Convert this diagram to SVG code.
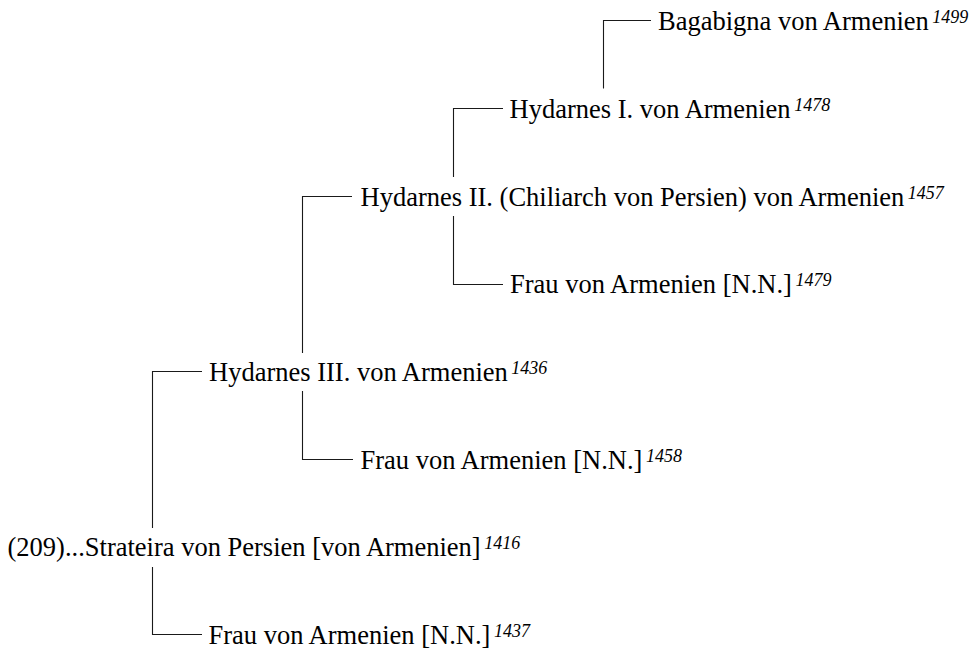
<svg xmlns="http://www.w3.org/2000/svg" width="975" height="657" viewBox="0 0 975 657">
<style>
text{font-family:"Liberation Serif","Times New Roman",serif;font-size:26.5px;fill:#000}
.sup{font-style:italic;font-size:18px}
.c{fill:none;stroke:#1a1a1a;stroke-width:1.1}
</style>
<rect width="975" height="657" fill="#fff"/>
<g id="connectors">
<path class="c" d="M152.5 528V371.5H202"/>
<path class="c" d="M152.5 567V634.5H202"/>
<path class="c" d="M302.5 353V196.5H352"/>
<path class="c" d="M302.5 391V459.5H353"/>
<path class="c" d="M453.5 177V108.5H503"/>
<path class="c" d="M453.5 216V284.5H503"/>
<path class="c" d="M603.5 88.5V20.5H651"/>
</g>
<g id="n1416"><text x="7.5" y="556">(209)...Strateira von Persien [von Armenien]<tspan class="sup" dx="3.5" dy="-7">1416</tspan></text></g>
<g id="n1436"><text x="209" y="380.5">Hydarnes III. von Armenien<tspan class="sup" dx="3.5" dy="-7">1436</tspan></text></g>
<g id="n1437"><text x="208.5" y="643.5">Frau von Armenien [N.N.]<tspan class="sup" dx="3.5" dy="-7">1437</tspan></text></g>
<g id="n1457"><text x="360.5" y="205.5">Hydarnes II. (Chiliarch von Persien) von Armenien<tspan class="sup" dx="3.5" dy="-7">1457</tspan></text></g>
<g id="n1458"><text x="360.5" y="468.5">Frau von Armenien [N.N.]<tspan class="sup" dx="3.5" dy="-7">1458</tspan></text></g>
<g id="n1478"><text x="509.5" y="117.5">Hydarnes I. von Armenien<tspan class="sup" dx="3.5" dy="-7">1478</tspan></text></g>
<g id="n1479"><text x="510" y="293">Frau von Armenien [N.N.]<tspan class="sup" dx="3.5" dy="-7">1479</tspan></text></g>
<g id="n1499"><text x="658" y="29.5">Bagabigna von Armenien<tspan class="sup" dx="3.5" dy="-7">1499</tspan></text></g>
</svg>
